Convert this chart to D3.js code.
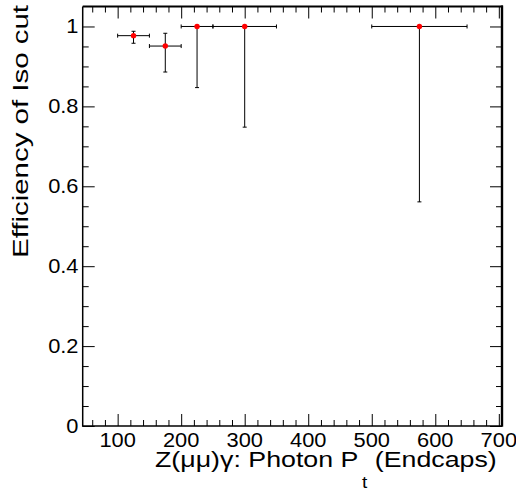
<!DOCTYPE html>
<html>
<head>
<meta charset="utf-8">
<script src="https://cdn.jsdelivr.net/npm/d3@7"></script>
<style>
  html, body { margin: 0; padding: 0; background: #fff; }
  svg { display: block; }
  text { font-family: "Liberation Sans", Arial, Helvetica, sans-serif; fill: #000; }
</style>
</head>
<body>
<svg id="chart" width="516" height="493"></svg>
<script>
// ---- data ----
const binCenters = [125, 175, 225, 300, 575];
const binLow     = [100, 150, 200, 250, 500];
const binHigh    = [150, 200, 250, 350, 650];
const efficiency = [0.977, 0.951, 1.0, 1.0, 1.0];
const effLow     = [0.958, 0.886, 0.847, 0.748, 0.561];
const effHigh    = [0.988, 0.983, 1.0, 1.0, 1.0];

const xMajorTicks = [100, 200, 300, 400, 500, 600, 700];
const yMajorTicks = [0, 0.2, 0.4, 0.6, 0.8, 1];
const yTickLabels = ["0", "0.2", "0.4", "0.6", "0.8", "1"];
const xTitle = ["Z(\u03bc\u03bc)\u03b3: Photon P", "t", " (Endcaps)"];
const yTitle = "Efficiency of Iso cut";

// ---- layout ----
const L = 82.7, R = 502, T = 6.5, B = 426;
const x = d3.scaleLinear().domain([45, 705]).range([L, R]);
const y = d3.scaleLinear().domain([0, 1.05]).range([B, T]);

const svg = d3.select("#chart");

const xMinor = d3.range(60, 705, 20).filter(v => v % 100 !== 0);
const yMinor = d3.range(0, 21).map(i => i * 0.05).filter((v, i) => i % 4 !== 0);

const major = 12, minor = 6;
const g = svg.append("g");

// bottom axis
const bottom = d3.axisBottom(x).tickValues(xMajorTicks).tickSize(-major).tickFormat("");
g.append("g").attr("transform", `translate(0,${B})`).call(bottom)
  .call(s => s.select(".domain").remove());
g.append("g").attr("transform", `translate(0,${B})`)
  .call(d3.axisBottom(x).tickValues(xMinor).tickSize(-minor).tickFormat(""))
  .call(s => s.select(".domain").remove());
// top mirrored
g.append("g").attr("transform", `translate(0,${T})`)
  .call(d3.axisTop(x).tickValues(xMajorTicks).tickSize(-major).tickFormat(""))
  .call(s => s.select(".domain").remove());
g.append("g").attr("transform", `translate(0,${T})`)
  .call(d3.axisTop(x).tickValues(xMinor).tickSize(-minor).tickFormat(""))
  .call(s => s.select(".domain").remove());
// left axis
g.append("g").attr("transform", `translate(${L},0)`)
  .call(d3.axisLeft(y).tickValues(yMajorTicks).tickSize(-major).tickFormat(""))
  .call(s => s.select(".domain").remove());
g.append("g").attr("transform", `translate(${L},0)`)
  .call(d3.axisLeft(y).tickValues(yMinor).tickSize(-minor).tickFormat(""))
  .call(s => s.select(".domain").remove());
// right mirrored
g.append("g").attr("transform", `translate(${R},0)`)
  .call(d3.axisRight(y).tickValues(yMajorTicks).tickSize(-major).tickFormat(""))
  .call(s => s.select(".domain").remove());
g.append("g").attr("transform", `translate(${R},0)`)
  .call(d3.axisRight(y).tickValues(yMinor).tickSize(-minor).tickFormat(""))
  .call(s => s.select(".domain").remove());
g.selectAll(".tick line").attr("stroke", "#000").attr("stroke-width", 1);

// frame
svg.append("line").attr("x1", L).attr("x2", L).attr("y1", T).attr("y2", B + 0.7).attr("stroke", "#000").attr("stroke-width", 1.5);
svg.append("line").attr("x1", L).attr("x2", R).attr("y1", B).attr("y2", B).attr("stroke", "#000").attr("stroke-width", 1.5);
svg.append("line").attr("x1", R).attr("x2", R).attr("y1", T - 1).attr("y2", B + 0.7).attr("stroke", "#000").attr("stroke-width", 2.4);
svg.append("line").attr("x1", L).attr("x2", R + 1).attr("y1", T).attr("y2", T).attr("stroke", "#000").attr("stroke-width", 2.2);

// tick labels
const sx = 1.12, fs = 19.5;
svg.append("g").selectAll("text").data(xMajorTicks).join("text")
  .attr("transform", d => `translate(${x(d)},446.7) scale(${sx},1)`)
  .attr("text-anchor", "middle").attr("font-size", fs).text(d => d);
svg.append("g").selectAll("text").data(yMajorTicks).join("text")
  .attr("transform", d => `translate(78.5,${y(d) + 7}) scale(${sx},1)`)
  .attr("text-anchor", "end").attr("font-size", fs).text((d, i) => yTickLabels[i]);

// x title
const xt = svg.append("text").attr("font-size", 22.5);
xt.append("tspan").text(xTitle[0]);
xt.append("tspan").attr("font-size", 16).attr("dy", 21).attr("dx", 3).text(xTitle[1]);
xt.append("tspan").attr("dy", -21).text(xTitle[2]);
const xw = xt.node().getBBox().width;
const xs = 342 / xw;
xt.attr("transform", `translate(${497 - 342},467) scale(${xs},1)`);

// y title
svg.append("text")
  .attr("transform", "translate(28.3,5) rotate(-90)")
  .attr("text-anchor", "end")
  .attr("font-size", 22)
  .attr("textLength", 253)
  .attr("lengthAdjust", "spacingAndGlyphs")
  .text(yTitle);

// data: asymmetric error bars
const pts = binCenters.map((c, i) => ({c, lo: binLow[i], hi: binHigh[i], e: efficiency[i], el: effLow[i], eh: effHigh[i]}));
const eb = svg.append("g").attr("stroke", "#000").attr("stroke-width", 1);
const cap = 2;
pts.forEach(p => {
  const cx = x(p.c), cy = y(p.e);
  eb.append("line").attr("x1", x(p.lo)).attr("x2", x(p.hi)).attr("y1", cy).attr("y2", cy);
  eb.append("line").attr("x1", x(p.lo)).attr("x2", x(p.lo)).attr("y1", cy - cap).attr("y2", cy + cap);
  eb.append("line").attr("x1", x(p.hi)).attr("x2", x(p.hi)).attr("y1", cy - cap).attr("y2", cy + cap);
  if (p.el < p.e) {
    eb.append("line").attr("x1", cx).attr("x2", cx).attr("y1", cy).attr("y2", y(p.el));
    eb.append("line").attr("x1", cx - cap).attr("x2", cx + cap).attr("y1", y(p.el)).attr("y2", y(p.el));
  }
  if (p.eh > p.e) {
    eb.append("line").attr("x1", cx).attr("x2", cx).attr("y1", cy).attr("y2", y(p.eh));
    eb.append("line").attr("x1", cx - cap).attr("x2", cx + cap).attr("y1", y(p.eh)).attr("y2", y(p.eh));
  }
});
svg.append("g").selectAll("circle").data(pts).join("circle")
  .attr("cx", d => x(d.c)).attr("cy", d => y(d.e)).attr("r", 2.7).attr("fill", "#ff0000");
</script>
</body>
</html>
